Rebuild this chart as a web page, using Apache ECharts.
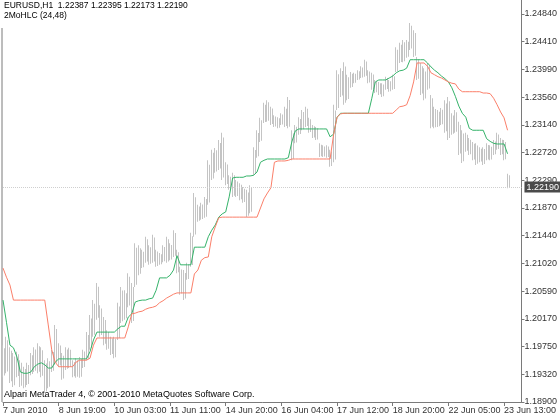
<!DOCTYPE html>
<html>
<head>
<meta charset="utf-8">
<script src="https://cdn.jsdelivr.net/npm/echarts@6/dist/echarts.min.js"></script>
<style>html,body{margin:0;padding:0;background:#fff;}#chart{width:560px;height:420px;}</style>
</head>
<body>
<div id="chart"></div>
<script>
// x-axis tick labels (every 16 entries = 32 hourly bars)
const xTickLabels = ['7 Jun 2010','8 Jun 19:00','10 Jun 03:00','11 Jun 11:00','14 Jun 20:00','16 Jun 04:00','17 Jun 12:00','18 Jun 20:00','22 Jun 05:00','23 Jun 13:00'];
// price axis tick labels (bottom to top)
const yTickLabels = ['1.18900','1.19320','1.19750','1.20170','1.20590','1.21020','1.21440','1.21870','1.22290','1.22720','1.23140','1.23560','1.23990','1.24410','1.24840'];

const barHigh = [
1.1977,1.1990,1.1974,1.1965,1.1967,1.1954,1.1944,1.1950,1.1965,1.1974,
1.1980,1.1974,1.1954,1.1957,1.1970,1.2008,1.1980,1.1965,1.1974,1.1973,
1.1954,1.1957,1.1959,1.1970,1.1997,1.2023,1.2046,1.2072,1.2038,1.2020,
1.2000,1.1990,1.1990,1.2042,1.2066,1.2061,1.2087,1.2072,1.2133,1.2130,
1.2123,1.2143,1.2130,1.2146,1.2123,1.2118,1.2130,1.2143,1.2133,1.2153,
1.2123,1.2097,1.2092,1.2103,1.2149,1.2210,1.2192,1.2195,1.2204,1.2260,
1.2276,1.2279,1.2291,1.2302,1.2257,1.2237,1.2241,1.2230,1.2225,1.2219,
1.2215,1.2222,1.2280,1.2306,1.2325,1.2348,1.2352,1.2342,1.2329,1.2326,
1.2332,1.2342,1.2357,1.2306,1.2314,1.2326,1.2337,1.2342,1.2325,1.2314,
1.2311,1.2286,1.2283,1.2283,1.2276,1.2345,1.2398,1.2401,1.2410,1.2391,
1.2395,1.2394,1.2398,1.2404,1.2414,1.2398,1.2394,1.2383,1.2380,1.2378,
1.2388,1.2383,1.2391,1.2433,1.2440,1.2444,1.2444,1.2470,1.2459,1.2418,
1.2409,1.2401,1.2409,1.2360,1.2342,1.2337,1.2340,1.2352,1.2357,1.2332,
1.2337,1.2319,1.2306,1.2302,1.2294,1.2288,1.2286,1.2280,1.2280,1.2286,
1.2283,1.2291,1.2302,1.2294,1.2291,1.22395];

const barLow = [
1.1928,1.1934,1.1919,1.1913,1.1928,1.1913,1.1911,1.1916,1.1931,1.1936,
1.1934,1.1928,1.1904,1.1911,1.1936,1.1947,1.1944,1.1924,1.1939,1.1942,
1.1928,1.1927,1.1927,1.1942,1.1954,1.1970,1.1990,1.2016,1.1990,1.1977,
1.1970,1.1962,1.1957,1.1985,1.2011,1.2016,1.2035,1.2011,1.2066,1.2084,
1.2095,1.2103,1.2100,1.2103,1.2097,1.2100,1.2104,1.2103,1.2107,1.2112,
1.2087,1.2054,1.2046,1.2077,1.2097,1.2143,1.2166,1.2169,1.2172,1.2192,
1.2230,1.2241,1.2245,1.2230,1.2222,1.2215,1.2204,1.2204,1.2199,1.2195,
1.2173,1.2179,1.2237,1.2264,1.2288,1.2317,1.2319,1.2314,1.2311,1.2309,
1.2314,1.2311,1.2309,1.2260,1.2286,1.2299,1.2306,1.2311,1.2302,1.2294,
1.2291,1.2265,1.2265,1.2264,1.2250,1.2257,1.2337,1.2357,1.2345,1.2352,
1.2371,1.2378,1.2383,1.2386,1.2388,1.2378,1.2368,1.2363,1.2360,1.2357,
1.2368,1.2365,1.2368,1.2395,1.2409,1.2410,1.2417,1.2429,1.2418,1.2383,
1.2360,1.2352,1.2368,1.2309,1.2309,1.2311,1.2314,1.2302,1.2291,1.2299,
1.2302,1.2268,1.2256,1.2273,1.2268,1.2260,1.2253,1.2257,1.2253,1.2260,
1.2260,1.2268,1.2276,1.2268,1.2260,1.22173];

const lineRed = [
1.2095,1.2081,1.2069,1.2046,1.2046,1.2046,1.2046,1.2046,1.2046,1.2046,
1.2046,1.2046,1.2046,1.2008,1.1970,1.1951,1.1944,1.1944,1.1944,1.1944,
1.1944,1.1951,1.1954,1.1954,1.1954,1.1957,1.1977,1.1988,1.1988,1.1988,
1.1988,1.1988,1.1988,1.1988,1.1988,1.1988,1.2005,1.2025,1.2026,1.2028,
1.2029,1.2032,1.2034,1.2035,1.2037,1.2042,1.2045,1.2049,1.2052,1.2055,
1.2057,1.2057,1.2057,1.2057,1.2057,1.2086,1.2092,1.2107,1.2111,1.2112,
1.2143,1.2158,1.2172,1.2173,1.2173,1.2173,1.2173,1.2173,1.2173,1.2173,
1.2173,1.2173,1.2173,1.2173,1.2187,1.2201,1.2210,1.2218,1.2257,1.2259,
1.2259,1.2259,1.2260,1.2262,1.2262,1.2262,1.2262,1.2262,1.2262,1.2262,
1.2262,1.2262,1.2262,1.2262,1.2262,1.2299,1.2326,1.2331,1.2332,1.2332,
1.2332,1.2332,1.2332,1.2332,1.2332,1.2332,1.2332,1.2332,1.2332,1.2332,
1.2332,1.2332,1.2332,1.2337,1.2342,1.2343,1.2345,1.2359,1.2380,1.2409,
1.2409,1.2409,1.2404,1.2394,1.2391,1.2388,1.2386,1.2383,1.2380,1.2378,
1.2377,1.2369,1.2365,1.2365,1.2365,1.2365,1.2365,1.2365,1.2363,1.2363,
1.2362,1.2355,1.2345,1.2334,1.2325,1.2306];

const lineGreen = [
1.2046,1.2012,1.1977,1.1973,1.1959,1.1936,1.1934,1.1934,1.1936,1.1944,
1.1948,1.1950,1.1947,1.1942,1.1942,1.1951,1.1956,1.1956,1.1956,1.1956,
1.1956,1.1956,1.1956,1.1956,1.1956,1.1967,1.1985,1.1997,1.1997,1.1997,
1.1997,1.1997,1.1997,1.2002,1.2006,1.2006,1.2020,1.2025,1.2043,1.2045,
1.2046,1.2046,1.2048,1.2049,1.2061,1.2080,1.2080,1.2080,1.2084,1.2092,
1.2114,1.2100,1.2100,1.2100,1.2100,1.2127,1.2127,1.2127,1.2127,1.2143,
1.2153,1.2161,1.2173,1.2178,1.2181,1.2204,1.2233,1.2234,1.2234,1.2234,
1.2236,1.2236,1.2237,1.2242,1.2257,1.2260,1.2262,1.2262,1.2262,1.2262,
1.2262,1.2262,1.2264,1.2288,1.2305,1.2308,1.2308,1.2308,1.2308,1.2308,
1.2308,1.2308,1.2308,1.2308,1.2296,1.2300,1.2326,1.2332,1.2332,1.2332,
1.2332,1.2332,1.2332,1.2332,1.2332,1.2332,1.2355,1.2380,1.2383,1.2383,
1.2383,1.2386,1.2389,1.2394,1.2397,1.2398,1.2401,1.2414,1.2414,1.2414,
1.2414,1.2414,1.2409,1.2403,1.2398,1.2394,1.2389,1.2385,1.2380,1.2371,
1.2358,1.2343,1.2332,1.2326,1.2309,1.2306,1.2306,1.2306,1.2306,1.2293,
1.2289,1.2286,1.2285,1.2285,1.2285,1.2270];

const lastBid = 1.22190;
const totalSlots = 150;

const categories = [];
for (let i = 0; i < totalSlots; i++) categories.push(i);
const barData = barHigh.map((h, i) => [i, barLow[i], h]);
const yLabelIdx = yTickLabels.map((_, i) => i);

const FONT = 'Liberation Sans';
const GRAY = '#7a7a7a';
const chart = echarts.init(document.getElementById('chart'), null, {renderer: 'canvas'});
chart.setOption({
  animation: false,
  backgroundColor: '#ffffff',
  grid: {left: 2, right: 34, top: 0, bottom: 18, containLabel: false},
  xAxis: {
    type: 'category', data: categories, boundaryGap: false,
    axisLine: {show: true, lineStyle: {color: GRAY, width: 1}},
    axisTick: {show: true, interval: 15, length: 4, lineStyle: {color: GRAY}},
    axisLabel: {
      interval: 15, align: 'left', margin: 4, fontSize: 9, fontFamily: FONT, color: '#333',
      formatter: (v, idx) => (idx % 16 === 0 && xTickLabels[idx / 16]) ? xTickLabels[idx / 16] : ''
    },
    splitLine: {show: false}
  },
  yAxis: [
    {type: 'value', min: 1.18900, max: 1.25054, position: 'right',
     axisLine: {show: false}, axisTick: {show: false}, axisLabel: {show: false}, splitLine: {show: false}},
    {type: 'value', min: 0, max: 14.505, position: 'right',
     axisLine: {show: true, lineStyle: {color: GRAY}},
     axisTick: {show: true, length: 3, lineStyle: {color: GRAY}, customValues: yLabelIdx},
     axisLabel: {margin: 3, fontSize: 9, fontFamily: FONT, color: '#333', customValues: yLabelIdx,
       formatter: v => yTickLabels[Math.round(v)] || ''},
     splitLine: {show: false}}
  ],
  graphic: [
    {type: 'line', shape: {x1: 2, y1: 28, x2: 2, y2: 402}, style: {stroke: GRAY, lineWidth: 1}},
    {type: 'text', left: 4, top: 1, style: {text: 'EURUSD,H1  1.22387 1.22395 1.22173 1.22190', font: '8.5px ' + FONT, fill: '#000'}},
    {type: 'text', left: 4, top: 11, style: {text: '2MoHLC (24,48)', font: '8.5px ' + FONT, fill: '#000'}},
    {type: 'text', left: 4, top: 390, style: {text: 'Alpari MetaTrader 4, © 2001-2010 MetaQuotes Software Corp.', font: '9px ' + FONT, fill: '#000'}}
  ],
  series: [
    {
      type: 'custom', name: 'EURUSD,H1', xAxisIndex: 0, yAxisIndex: 0, data: barData,
      encode: {x: 0, y: [1, 2]},
      renderItem: (params, api) => {
        const i = api.value(0);
        const lo = api.coord([i, api.value(1)]);
        const hi = api.coord([i, api.value(2)]);
        const h = Math.max(1, lo[1] - hi[1]);
        const cx = Math.round(hi[0]);
        return {type: 'group', children: [
          {type: 'rect', shape: {x: cx - 1, y: hi[1], width: 1, height: h}, style: {fill: '#c4c4c4'}},
          {type: 'rect', shape: {x: cx + 1, y: hi[1] + h * 0.1, width: 1, height: h * 0.85}, style: {fill: '#c4c4c4'}}
        ]};
      },
      z: 1
    },
    {
      type: 'line', name: 'MoHLC 48', data: lineRed, xAxisIndex: 0, yAxisIndex: 0,
      showSymbol: false, lineStyle: {color: '#fb7f6a', width: 1}, z: 3,
      markLine: {
        silent: true, symbol: 'none',
        lineStyle: {color: '#cfcfcf', type: 'dotted', width: 1},
        label: {show: true, position: 'end', distance: 3, formatter: () => lastBid.toFixed(5),
                backgroundColor: '#4a4a4a', color: '#ffffff', fontSize: 9, fontFamily: FONT, padding: [1, 2, 1, 2]},
        data: [[{coord: [0, lastBid]}, {coord: [totalSlots - 1, lastBid]}]]
      }
    },
    {
      type: 'line', name: 'MoHLC 24', data: lineGreen, xAxisIndex: 0, yAxisIndex: 0,
      showSymbol: false, lineStyle: {color: '#35b36a', width: 1}, z: 2
    }
  ]
});
</script>
</body>
</html>
